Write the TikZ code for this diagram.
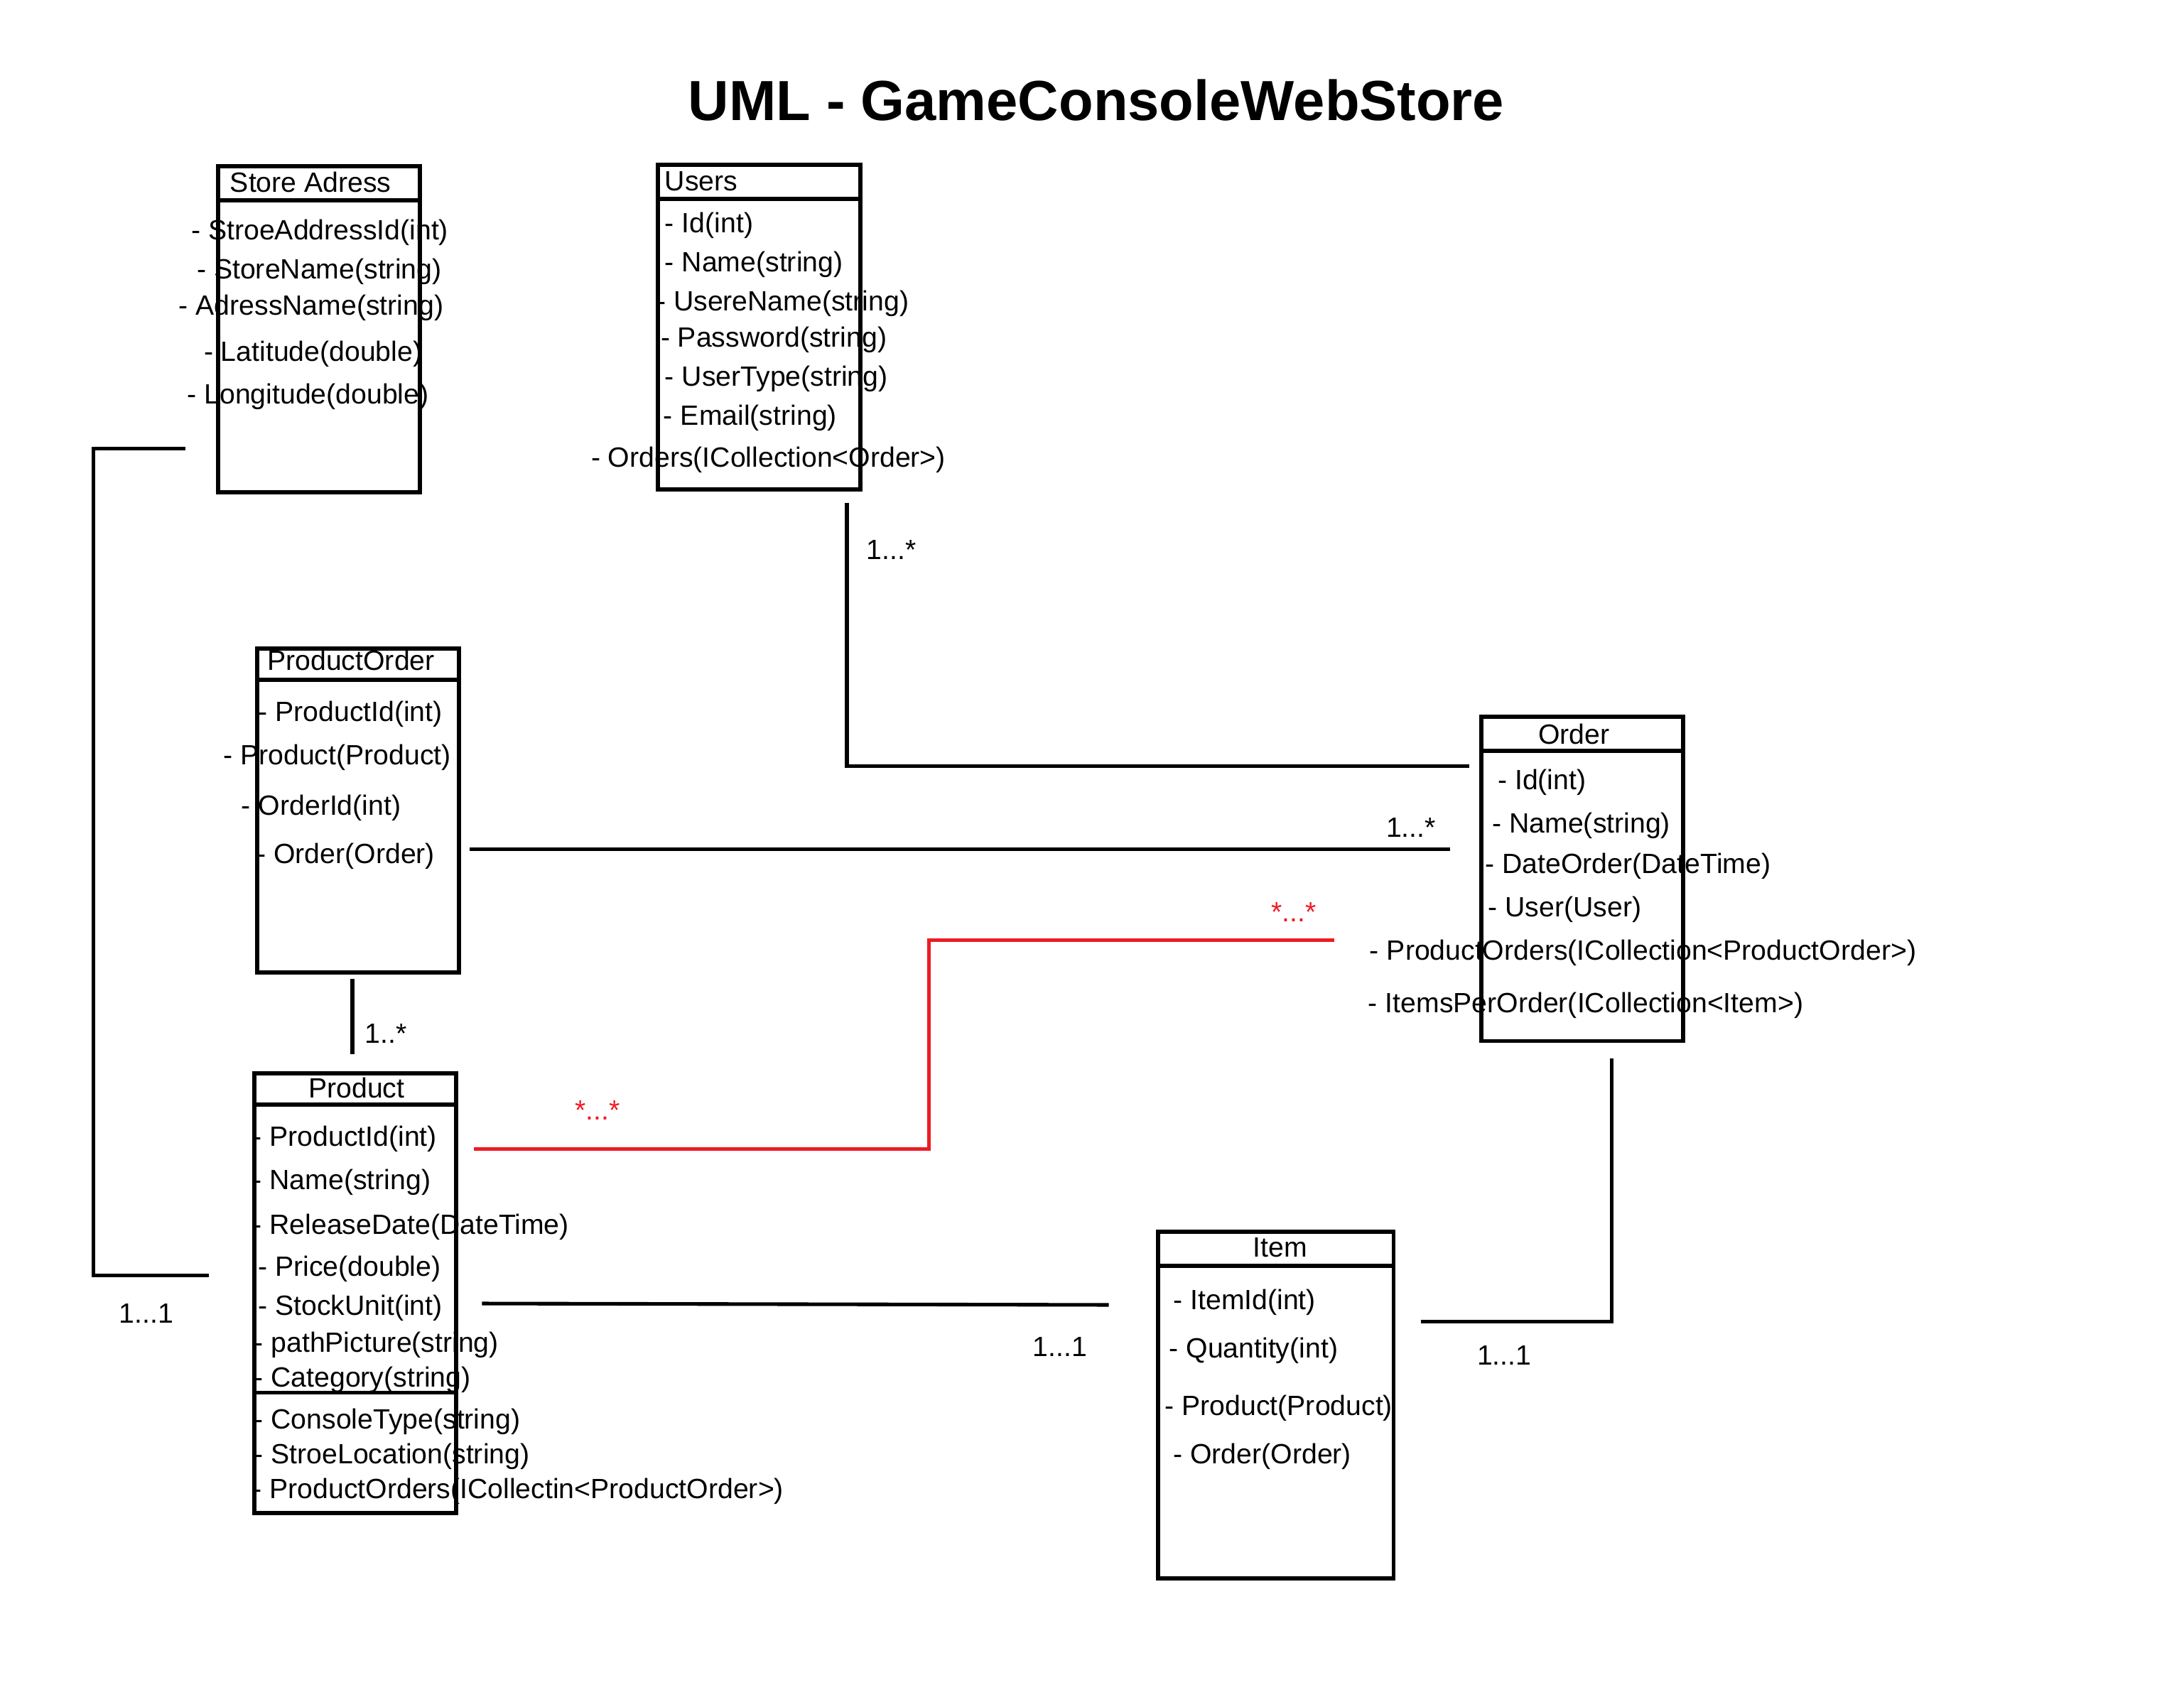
\documentclass[tikz,border=0pt]{standalone}
\usepackage{fontspec}
\setmainfont{Liberation Sans}
\usepackage{xcolor}
\usetikzlibrary{calc}
\definecolor{umlred}{HTML}{ED1C24}
\tikzset{
  umlbox/.style={draw=black,line width=1.5pt,anchor=north west,inner sep=0pt},
  sepline/.style={draw=black,line width=1.5pt},
  link/.style={draw=black,line width=1.3pt},
  redlink/.style={draw=umlred,line width=1.3pt},
  attr/.style={anchor=west,inner sep=0pt,yshift=-1pt,font=\fontsize{10}{12}\selectfont},
  head/.style={inner sep=0pt,font=\fontsize{10}{12}\selectfont},
  mult/.style={inner sep=0pt,font=\fontsize{10}{12}\selectfont},
  redmult/.style={mult,text=umlred}
}
\begin{document}
\begin{tikzpicture}[x=0.5pt,y=-0.5pt]
  \useasboundingbox (0,0) rectangle (1568,1222);
  \node[font=\fontsize{20.3}{24}\selectfont\bfseries] (title) at (787,72) {UML - GameConsoleWebStore};

  % Store Adress
  \node[umlbox,minimum width=72.5pt,minimum height=117pt] (store) at (155,118) {};
  \node[head] (storehead) at (223,131) {Store Adress};
  \draw[sepline] ($(store.north west)+(0,26)$) -- ($(store.north east)+(0,26)$);
  \foreach \x/\y/\txt [count=\i] in {137/165/{- StroeAddressId(int)},141/193/{- StoreName(string)},
      128/219/{- AdressName(string)},146/252/{- Latitude(double)},134/283/{- Longitude(double)}}
    \node[attr] (storeattr\i) at (\x,\y) {\txt};

  % Users
  \node[umlbox,minimum width=72.5pt,minimum height=116.5pt] (users) at (471,117) {};
  \node[head,anchor=west] (usershead) at (477,130) {Users};
  \draw[sepline] ($(users.north west)+(0,26)$) -- ($(users.north east)+(0,26)$);
  \foreach \x/\y/\txt [count=\i] in {477/160/{- Id(int)},477/188/{- Name(string)},471/216/{- UsereName(string)},
      474/242/{- Password(string)},477/270/{- UserType(string)},476/298/{- Email(string)},
      424/328/{- Orders(ICollection<Order>)}}
    \node[attr] (usersattr\i) at (\x,\y) {\txt};

  % ProductOrder
  \node[umlbox,minimum width=72.5pt,minimum height=116.5pt] (porder) at (183,464) {};
  \node[head] (porderhead) at (252,474) {ProductOrder};
  \draw[sepline] ($(porder.north west)+(0,24)$) -- ($(porder.north east)+(0,24)$);
  \foreach \x/\y/\txt [count=\i] in {185/511/{- ProductId(int)},160/542/{- Product(Product)},
      173/578/{- OrderId(int)},184/613/{- Order(Order)}}
    \node[attr] (porderattr\i) at (\x,\y) {\txt};

  % Product
  \node[umlbox,minimum width=72.5pt,minimum height=158pt] (product) at (181,769) {};
  \node[head] (producthead) at (256,781) {Product};
  \draw[sepline] ($(product.north west)+(0,24)$) -- ($(product.north east)+(0,24)$);
  \draw[sepline] ($(product.north west)+(0,231)$) -- ($(product.north east)+(0,231)$);
  \foreach \x/\y/\txt [count=\i] in {181/816/{- ProductId(int)},181/847/{- Name(string)},
      181/879/{- ReleaseDate(DateTime)},185/909/{- Price(double)},185/937/{- StockUnit(int)},
      182/964/{- pathPicture(string)},182/989/{- Category(string)},182/1019/{- ConsoleType(string)},
      182/1044/{- StroeLocation(string)},181/1069/{- ProductOrders(ICollectin<ProductOrder>)}}
    \node[attr] (productattr\i) at (\x,\y) {\txt};

  % Order
  \node[umlbox,minimum width=72.5pt,minimum height=116.5pt] (order) at (1062,513) {};
  \node[head] (orderhead) at (1130,527) {Order};
  \draw[sepline] ($(order.north west)+(0,26)$) -- ($(order.north east)+(0,26)$);
  \foreach \x/\y/\txt [count=\i] in {1075/560/{- Id(int)},1071/591/{- Name(string)},
      1066/620/{- DateOrder(DateTime)},1068/651/{- User(User)},
      983/682/{- ProductOrders(ICollection<ProductOrder>)},982/720/{- ItemsPerOrder(ICollection<Item>)}}
    \node[attr] (orderattr\i) at (\x,\y) {\txt};

  % Item
  \node[umlbox,minimum width=84.5pt,minimum height=124.5pt] (item) at (830,883) {};
  \node[head] (itemhead) at (919,896) {Item};
  \draw[sepline] ($(item.north west)+(0,26)$) -- ($(item.north east)+(0,26)$);
  \foreach \x/\y/\txt [count=\i] in {842/933/{- ItemId(int)},839/968/{- Quantity(int)},
      836/1009/{- Product(Product)},842/1044/{- Order(Order)}}
    \node[attr] (itemattr\i) at (\x,\y) {\txt};

  % connector ends
  \coordinate (storeend) at (133,322);
  \coordinate (storeknee) at (67,620);
  \coordinate (prodstore) at (150,916);
  \coordinate (usersend) at (608,361);
  \coordinate (orderusers) at (1055,550);
  \coordinate (porderend) at (337,610);
  \coordinate (orderporder) at (1041,610);
  \coordinate (porderbottom) at (253,703);
  \coordinate (prodtop) at (253,757);
  \coordinate (prodred) at (340,825);
  \coordinate (redknee) at (667,750);
  \coordinate (orderred) at (958,675);
  \coordinate (proditem) at (346,936);
  \coordinate (itemprod) at (796,937);
  \coordinate (itemorder) at (1020,949);
  \coordinate (orderbottom) at (1157,760);

  \draw[link] (storeend) -| (storeknee) |- (prodstore);
  \draw[link] (usersend) |- (orderusers);
  \draw[link] (porderend) -- (orderporder);
  \draw[link] (porderbottom) -- (prodtop);
  \draw[redlink] (prodred) -| (redknee) |- (orderred);
  \draw[link] (proditem) -- (itemprod);
  \draw[link] (itemorder) -| (orderbottom);

  % multiplicities
  \node[mult] (mstore) at (105,943) {1...1};
  \node[mult] (musers) at (640,395) {1...*};
  \node[mult] (mporder) at (1013,594) {1...*};
  \node[mult] (mpprod) at (277,742) {1..*};
  \node[redmult] (mredorder) at (929,655) {*...*};
  \node[redmult] (mredprod) at (429,797) {*...*};
  \node[mult] (mitem) at (761,967) {1...1};
  \node[mult] (mitemorder) at (1080,973) {1...1};
\end{tikzpicture}
\end{document}
